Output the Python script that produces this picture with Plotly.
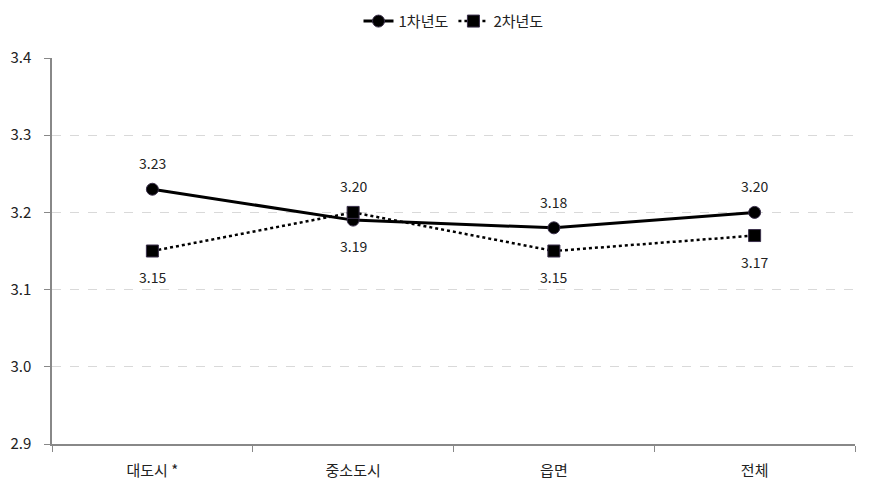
import plotly.graph_objects as go

categories = ["대도시 *", "중소도시", "읍면", "전체"]
year1 = [3.23, 3.19, 3.18, 3.20]
year2 = [3.15, 3.20, 3.15, 3.17]
series_names = ["1차년도", "2차년도"]
side1 = [1, -1, 1, 1]
side2 = [-1, 1, -1, -1]

font_family = "Noto Sans CJK KR, Malgun Gothic, sans-serif"

fig = go.Figure()
fig.add_trace(go.Scatter(
    x=categories, y=year1, name=series_names[0], mode="lines+markers",
    line=dict(color="black", width=3),
    marker=dict(symbol="circle", size=12, color="black", line=dict(color="#3a2f4a", width=1)),
))
fig.add_trace(go.Scatter(
    x=categories, y=year2, name=series_names[1], mode="lines+markers",
    line=dict(color="black", width=2.5, dash="dot"),
    marker=dict(symbol="square", size=12, color="black", line=dict(color="#3a2f4a", width=1)),
))

for vals, sides in ((year1, side1), (year2, side2)):
    for c, v, s in zip(categories, vals, sides):
        fig.add_annotation(x=c, y=v, text=f"{v:.2f}", showarrow=False,
                           yshift=26 * s, font=dict(size=14, color="#222222"))

fig.update_layout(
    width=871, height=493,
    margin=dict(l=52, r=16, t=58, b=49, autoexpand=False),
    paper_bgcolor="white", plot_bgcolor="white",
    font=dict(family=font_family, size=14, color="#222222"),
    legend=dict(orientation="h", x=0.5, xanchor="center", y=1.095, yanchor="middle",
                font=dict(size=15), traceorder="normal"),
    showlegend=True,
)
fig.update_xaxes(
    type="category", showline=True, linecolor="#888888", linewidth=1.5,
    ticks="outside", tickson="boundaries", ticklen=6, tickcolor="#888888",
    showgrid=False, tickfont=dict(size=15), range=[-0.5, 3.5], ticklabelstandoff=12,
)
fig.update_yaxes(
    range=[2.9, 3.4], dtick=0.1, tickformat=".1f",
    showline=True, linecolor="#888888", linewidth=1.5,
    ticks="outside", ticklen=6, tickcolor="#888888",
    showgrid=True, gridcolor="#d9d9d9", griddash="dash", gridwidth=1,
    tickfont=dict(size=15), zeroline=False, ticklabelstandoff=10,
)

fig.write_html("out.html")
